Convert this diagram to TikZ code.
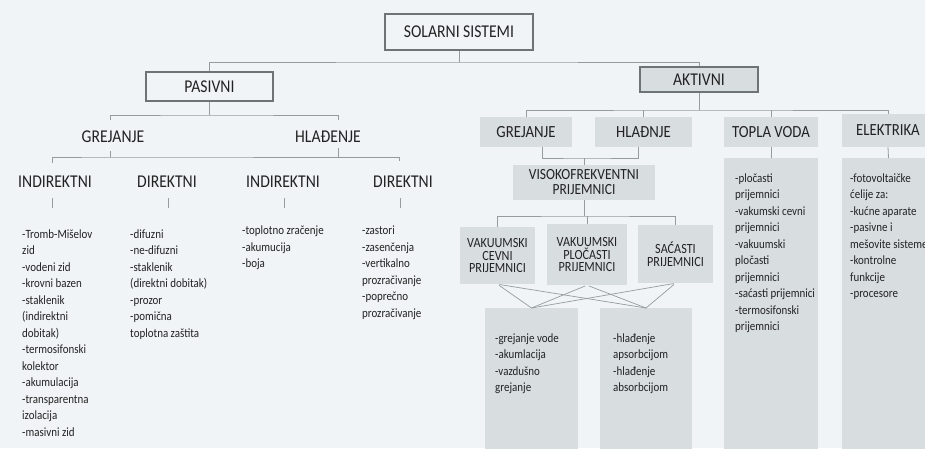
\documentclass[tikz,border=0pt]{standalone}
\usepackage{fontspec}
\setmainfont{Carlito}[FakeStretch=0.87]
\definecolor{bgc}{HTML}{F0F4F6}
\definecolor{gfill}{HTML}{D8DDE0}
\definecolor{linec}{HTML}{959BA0}
\definecolor{boxline}{HTML}{6E7376}
\definecolor{txt}{HTML}{222222}
\tikzset{
  conn/.style={draw=linec, line width=0.8pt},
  hdr/.style={font=\fontsize{18}{18}\selectfont, text=txt, inner sep=0pt},
  wbox/.style={draw=boxline, line width=1.4pt, fill=bgc, font=\fontsize{18}{18}\selectfont, text=txt, inner sep=0pt},
  gbox/.style={fill=gfill, font=\fontsize{17}{17}\selectfont, text=txt, inner sep=0pt},
  sbox/.style={fill=gfill, font=\fontsize{14}{12.5}\selectfont, text=txt, inner sep=0pt, align=center},
  lst/.style={font=\fontsize{12.6}{16.5}\selectfont, text=txt, inner sep=0pt, align=left, anchor=north west}
}
\begin{document}
\begin{tikzpicture}[x=1pt,y=-1pt]
\useasboundingbox (0,0) rectangle (925,448);
\clip (0,0) rectangle (925,448);
\fill[bgc] (0,0) rectangle (925,448);

% top level
\node[wbox, minimum width=148, minimum height=36] (sol) at (459,32) {SOLARNI SISTEMI};
\node[wbox, minimum width=127, minimum height=29] (pas) at (209.5,86.5) {PASIVNI};
\node[gbox, draw=boxline, line width=1.4pt, minimum width=118, minimum height=25, font=\fontsize{18}{18}\selectfont] (akt) at (699,79.5) {AKTIVNI};
\coordinate (j0) at (459,62);
\draw[conn] (sol.south) -- (j0);
\draw[conn] (pas.north) |- (j0) -| (akt.north);

% passive branch
\node[hdr] (grL) at (113,137) {GREJANJE};
\node[hdr] (hlL) at (328,137) {HLAĐENJE};
\coordinate (jP) at (209.5,115);
\coordinate (tG) at (110,120);
\coordinate (tH) at (338,120);
\draw[conn] (pas.south) -- (jP);
\draw[conn] (tG) |- (jP) -| (tH);

\coordinate (bG) at (110,151);
\coordinate (jG) at (110,157);
\coordinate (bH) at (338,148);
\coordinate (a1) at (52,163);
\coordinate (a4) at (399,161);
\draw[conn] (bG) -- (jG);
\draw[conn] (a1) |- (jG) -| (a4);
\draw[conn] (bH) -- (bH |- jG);

\node[hdr] (in1) at (55,182) {INDIREKTNI};
\node[hdr] (di1) at (167,182) {DIREKTNI};
\node[hdr] (in2) at (283,182) {INDIREKTNI};
\node[hdr] (di2) at (403,182) {DIREKTNI};
\foreach \x/\n in {52/t1,168/t2,284/t3,400/t4}{
  \coordinate (\n a) at (\x,198);
  \coordinate (\n b) at (\x,208);
  \draw[conn] (\n a) -- (\n b);
}

\node[lst] (l1) at (22,229.5) {-Tromb-Mišelov\\zid\\-vodeni zid\\-krovni bazen\\-staklenik\\(indirektni\\dobitak)\\-termosifonski\\kolektor\\-akumulacija\\-transparentna\\izolacija\\-masivni zid};
\node[lst] (l2) at (130,229.5) {-difuzni\\-ne-difuzni\\-staklenik\\(direktni dobitak)\\-prozor\\-pomična\\toplotna zaštita};
\node[lst] (l3) at (242,226) {-toplotno zračenje\\-akumucija\\-boja};
\node[lst] (l4) at (362,226) {-zastori\\-zasenčenja\\-vertikalno\\prozračivanje\\-poprečno\\prozračivanje};

% active branch
\node[gbox, minimum width=92, minimum height=30] (grA) at (526,132) {GREJANJE};
\node[gbox, minimum width=97, minimum height=30] (hlA) at (643.5,132) {HLAĐNJE};
\node[gbox, minimum width=94, minimum height=30] (tv) at (771,132) {TOPLA VODA};
\node[gbox, minimum width=92, minimum height=33] (el) at (888,130.5) {ELEKTRIKA};
\coordinate (jA) at (699,110);
\draw[conn] (akt.south) -- (jA);
\draw[conn] (grA.north) |- (jA) -| (el.north);
\draw[conn] (hlA.north) -- (hlA.north |- jA);
\draw[conn] (tv.north) -- (tv.north |- jA);

\node[gbox, minimum width=142, minimum height=35, align=center, font=\fontsize{15.5}{15}\selectfont] (viso) at (584,182.5) {VISOKOFREKVENTNI\\PRIJEMNICI};
\coordinate (jV) at (584,158);
\draw[conn] ([xshift=16pt]grA.south) |- (jV) -| ([xshift=-5pt]hlA.south);
\draw[conn] (jV) -- (viso.north);

\node[sbox, minimum width=75, minimum height=57] (vc) at (497.5,255.5) {VAKUUMSKI\\CEVNI\\PRIJEMNICI};
\node[sbox, minimum width=80, minimum height=61] (vp) at (587,254.5) {VAKUUMSKI\\PLOČASTI\\PRIJEMNICI};
\node[sbox, minimum width=75, minimum height=58] (sa) at (675.5,254) {SAĆASTI\\PRIJEMNICI};
\coordinate (jB) at (584,216);
\draw[conn] (viso.south) -- (jB);
\draw[conn] (vc.north) |- (jB) -| (sa.north);
\draw[conn] (vp.north) -- (vp.north |- jB);

\node[fill=gfill, minimum width=93, minimum height=170, inner sep=0pt, anchor=north] (bl) at (531.5,308) {};
\node[fill=gfill, minimum width=92, minimum height=170, inner sep=0pt, anchor=north] (br) at (646,308) {};
\foreach \s in {vc,vp,sa}{
  \draw[conn, line width=0.7pt, shorten <=2pt] (\s.south) -- (bl.north);
  \draw[conn, line width=0.7pt, shorten <=2pt] (\s.south) -- (br.north);
}
\node[lst] (blt) at (495,333.5) {-grejanje vode\\-akumlacija\\-vazdušno\\grejanje};
\node[lst] (brt) at (613,333.5) {-hlađenje\\apsorbcijom\\-hlađenje\\absorbcijom};

\node[fill=gfill, minimum width=94, minimum height=320, inner sep=0pt, anchor=north] (tvl) at (771,158) {};
\node[fill=gfill, minimum width=93, minimum height=320, inner sep=0pt, anchor=north] (ell) at (888.5,158) {};
\draw[conn] (tv.south) -- (tvl.north);
\draw[conn] (el.south) -- (ell.north);
\node[lst] (tvt) at (735,173.5) {-pločasti\\prijemnici\\-vakumski cevni\\prijemnici\\-vakuumski\\pločasti\\prijemnici\\-saćasti prijemnici\\-termosifonski\\prijemnici};
\node[lst] (elt) at (850,173.5) {-fotovoltaičke\\ćelije za:\\-kućne aparate\\-pasivne i\\mešovite sisteme\\-kontrolne\\funkcije\\-procesore};
\end{tikzpicture}
\end{document}
